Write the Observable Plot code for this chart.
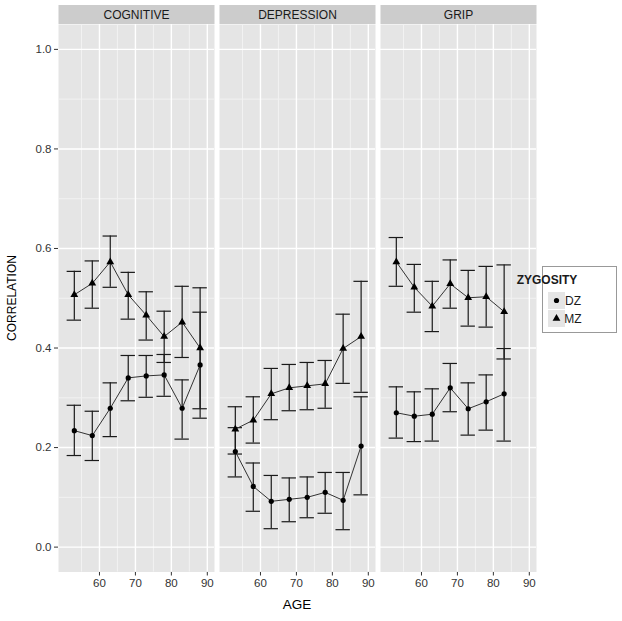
<!DOCTYPE html>
<html>
<head>
<meta charset="utf-8">
<script src="https://cdn.jsdelivr.net/npm/d3@7"></script>
<script src="https://cdn.jsdelivr.net/npm/@observablehq/plot@0.6"></script>
<style>
  html, body { margin: 0; padding: 0; background: white; }
  svg { display: block; }
</style>
</head>
<body>
<div id="chart"></div>
<script>
// ---- data ----
const facets = ["COGNITIVE", "DEPRESSION", "GRIP"];
const zygosities = ["DZ", "MZ"];
const xTicks = [60, 70, 80, 90];
const yTicks = [0, 0.2, 0.4, 0.6, 0.8, 1.0];

const ages = [53, 58, 63, 68, 73, 78, 83, 88];
const gripAges = [53, 58, 63, 68, 73, 78, 83];

const cognitiveMZ     = [0.507, 0.530, 0.573, 0.507, 0.466, 0.423, 0.452, 0.400];
const cognitiveMZLow  = [0.456, 0.480, 0.522, 0.458, 0.416, 0.371, 0.381, 0.278];
const cognitiveMZHigh = [0.554, 0.575, 0.625, 0.552, 0.513, 0.474, 0.524, 0.521];
const cognitiveDZ     = [0.234, 0.224, 0.279, 0.340, 0.344, 0.346, 0.279, 0.366];
const cognitiveDZLow  = [0.184, 0.174, 0.222, 0.294, 0.301, 0.303, 0.217, 0.259];
const cognitiveDZHigh = [0.285, 0.273, 0.330, 0.385, 0.385, 0.387, 0.336, 0.472];

const depressionMZ     = [0.237, 0.255, 0.308, 0.320, 0.324, 0.328, 0.399, 0.423];
const depressionMZLow  = [0.187, 0.209, 0.256, 0.274, 0.276, 0.279, 0.329, 0.311];
const depressionMZHigh = [0.282, 0.302, 0.359, 0.367, 0.371, 0.375, 0.468, 0.534];
const depressionDZ     = [0.192, 0.122, 0.092, 0.096, 0.100, 0.110, 0.094, 0.203];
const depressionDZLow  = [0.141, 0.072, 0.037, 0.051, 0.059, 0.068, 0.035, 0.105];
const depressionDZHigh = [0.240, 0.169, 0.144, 0.139, 0.141, 0.150, 0.150, 0.302];

const gripMZ     = [0.573, 0.522, 0.484, 0.529, 0.501, 0.503, 0.473];
const gripMZLow  = [0.524, 0.472, 0.433, 0.480, 0.444, 0.442, 0.378];
const gripMZHigh = [0.622, 0.568, 0.534, 0.577, 0.556, 0.564, 0.567];
const gripDZ     = [0.270, 0.263, 0.267, 0.320, 0.278, 0.292, 0.308];
const gripDZLow  = [0.219, 0.212, 0.213, 0.272, 0.225, 0.235, 0.213];
const gripDZHigh = [0.322, 0.312, 0.318, 0.369, 0.330, 0.346, 0.399];

// ---- build table ----
const rows = [];
function add(facet, zyg, xs, r, lo, hi) {
  xs.forEach((a, i) => rows.push({facet, zyg, age: a, r: r[i], lo: lo[i], hi: hi[i]}));
}
add("COGNITIVE", "DZ", ages, cognitiveDZ, cognitiveDZLow, cognitiveDZHigh);
add("COGNITIVE", "MZ", ages, cognitiveMZ, cognitiveMZLow, cognitiveMZHigh);
add("DEPRESSION", "DZ", ages, depressionDZ, depressionDZLow, depressionDZHigh);
add("DEPRESSION", "MZ", ages, depressionMZ, depressionMZLow, depressionMZHigh);
add("GRIP", "DZ", gripAges, gripDZ, gripDZLow, gripDZHigh);
add("GRIP", "MZ", gripAges, gripMZ, gripMZLow, gripMZHigh);

const dz = rows.filter(d => d.zyg === "DZ");
const mz = rows.filter(d => d.zyg === "MZ");
const capHalf = 2;
const minorX = [55, 65, 75, 85];
const minorY = [0.1, 0.3, 0.5, 0.7, 0.9];
const ink = "#1a1a1a";
const rDZ = 2.6, rMZ = 2.9;

const chart = Plot.plot({
  width: 622,
  height: 621,
  marginLeft: 57,
  marginRight: 85,
  marginTop: 24,
  marginBottom: 49.5,
  style: {fontFamily: "'Liberation Sans', Arial, sans-serif", fontSize: "11.5px", color: "#333", background: "white"},
  fx: {domain: facets, paddingInner: 0.028, paddingOuter: 0, axis: null, label: null},
  x: {domain: [48.6, 92], ticks: xTicks, tickSize: 4, tickPadding: 3, label: null},
  y: {domain: [-0.05, 1.05], ticks: yTicks, tickFormat: d3.format(".1f"), tickSize: 4, tickPadding: 3, label: null},
  marks: [
    Plot.frame({fill: "#e5e5e5", stroke: "none"}),
    Plot.ruleY(minorY, {stroke: "#f2f2f2", strokeWidth: 1}),
    Plot.ruleX(minorX, {stroke: "#f2f2f2", strokeWidth: 1}),
    Plot.ruleY(yTicks, {stroke: "white", strokeWidth: 1.4}),
    Plot.ruleX(xTicks, {stroke: "white", strokeWidth: 1.4}),
    Plot.ruleX(rows, {fx: "facet", x: "age", y1: "lo", y2: "hi", stroke: ink, strokeWidth: 1.2}),
    Plot.ruleY(rows, {fx: "facet", y: "lo", x1: d => d.age - capHalf, x2: d => d.age + capHalf, stroke: ink, strokeWidth: 1.2}),
    Plot.ruleY(rows, {fx: "facet", y: "hi", x1: d => d.age - capHalf, x2: d => d.age + capHalf, stroke: ink, strokeWidth: 1.2}),
    Plot.line(rows, {fx: "facet", x: "age", y: "r", z: "zyg", stroke: "#333", strokeWidth: 1}),
    Plot.dot(dz, {fx: "facet", x: "age", y: "r", symbol: "circle", r: rDZ, fill: "black", stroke: "none"}),
    Plot.dot(mz, {fx: "facet", x: "age", y: "r", symbol: "triangle", r: rMZ, fill: "black", stroke: "none"})
  ]
});

document.getElementById("chart").appendChild(chart);

// ---- decorations: facet strips, axis titles, legend ----
const svg = d3.select(chart);
const svgBox = chart.getBoundingClientRect();
const frames = Array.from(chart.querySelectorAll('g[aria-label="frame"] rect'));
const deco = svg.append("g").attr("font-family", "'Liberation Sans', Arial, sans-serif");
frames.forEach((rect, i) => {
  const b = rect.getBoundingClientRect();
  const x = b.left - svgBox.left;
  deco.append("rect").attr("x", x).attr("y", 5).attr("width", b.width).attr("height", 19).attr("fill", "#cccccc");
  deco.append("text").attr("x", x + b.width / 2).attr("y", 19).attr("text-anchor", "middle")
    .attr("font-size", 12).attr("fill", ink).text(facets[i]);
});

// axis titles
deco.append("text").attr("x", 297).attr("y", 609).attr("text-anchor", "middle")
  .attr("font-size", 13.5).attr("fill", "black").text("AGE");
deco.append("text").attr("transform", "translate(16,298) rotate(-90)").attr("text-anchor", "middle")
  .attr("font-size", 12).attr("fill", "black").text("CORRELATION");

// legend
const lg = deco.append("g");
lg.append("rect").attr("x", 542.5).attr("y", 266.5).attr("width", 74).attr("height", 66)
  .attr("fill", "white").attr("stroke", "#999").attr("stroke-width", 1);
lg.append("text").attr("x", 547).attr("y", 284).attr("font-size", 12).attr("font-weight", "bold")
  .attr("fill", ink).text("ZYGOSITY");
const legendSymbols = {DZ: d3.symbol(d3.symbolCircle, Math.PI * rDZ * rDZ), MZ: d3.symbol(d3.symbolTriangle, Math.PI * rMZ * rMZ)};
zygosities.forEach((z, i) => {
  const y0 = 292 + i * 18;
  lg.append("rect").attr("x", 548).attr("y", y0).attr("width", 17).attr("height", 17).attr("fill", "#e5e5e5");
  lg.append("path").attr("d", legendSymbols[z]()).attr("transform", `translate(556.5,${y0 + 8.5})`).attr("fill", "black");
  lg.append("text").attr("x", 573).attr("y", y0 + 13).attr("font-size", 12).attr("fill", ink).text(z);
});
</script>
</body>
</html>
